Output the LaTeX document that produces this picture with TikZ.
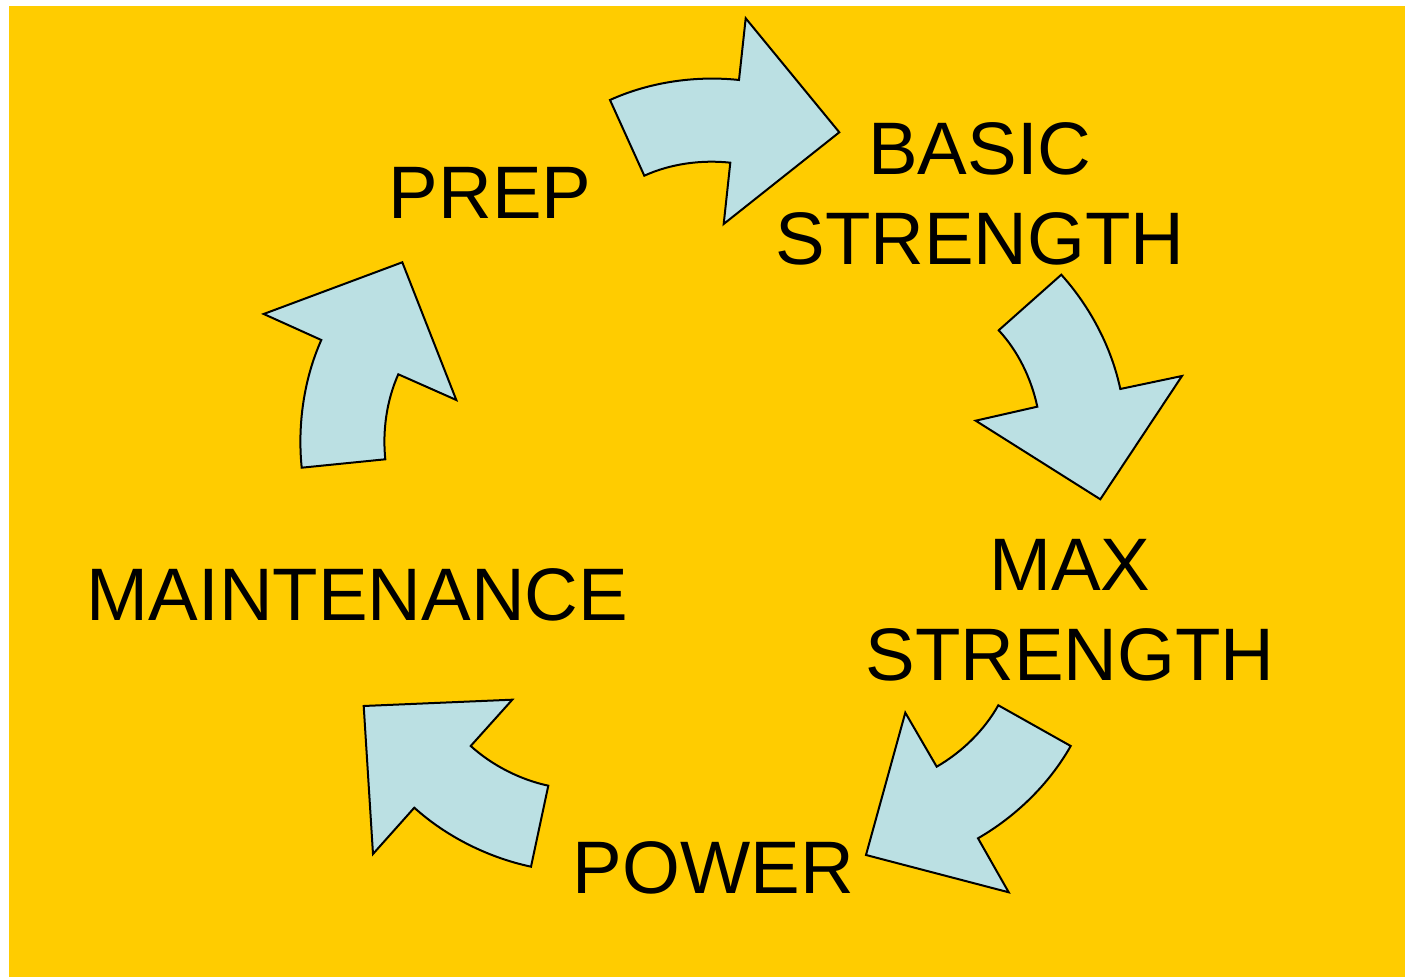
\documentclass[tikz,border=0pt]{standalone}
\usepackage{fontspec}
\setmainfont{Liberation Sans}
\usepackage{tikz}
\usetikzlibrary{arrows.meta,positioning,calc}
\definecolor{cycleyellow}{RGB}{255,204,0}
\definecolor{cycleblue}{RGB}{187,224,227}

\begin{document}
\begin{tikzpicture}[x=0.5pt,y=-0.5pt,
  cyclearrow/.style={fill=cycleblue,draw=black,line width=1pt,line join=miter},
  stage/.style={inner sep=0pt,align=center,font=\fontsize{37.2}{45}\selectfont}]
\useasboundingbox (0,0) rectangle (1405,977);
\fill[cycleyellow] (9,6) rectangle (1405,977);
% stage labels
\node[stage] (prep)  at (490,192.5)  {PREP};
\node[stage] (basic) at (980,194)    {BASIC\\STRENGTH};
\node[stage] (maxs)  at (1070,610)   {MAX\\STRENGTH};
\node[stage] (power) at (713.5,867.5) {POWER};
\node[stage] (maint) at (357.5,594.5) {MAINTENANCE};
% curved arrows, clockwise
\draw[cyclearrow] (610,100) .. controls (649.6,82) and (695.8,75.4) .. (739,80)
  -- (745.7,18.3) -- (839.3,132.3) -- (723.7,224) -- (730.3,162.7)
  .. controls (701.5,159.6) and (670.7,163.7) .. (644.3,175.7) -- cycle;
\draw[cyclearrow] (1061.3,274.7) -- (998.7,330.3)
  .. controls (1018.1,351.1) and (1031.4,378.8) .. (1037.3,406.7)
  -- (975.7,420.7) -- (1100.3,499.3) -- (1182,376) -- (1120.3,389)
  .. controls (1111.4,347) and (1090,306.6) .. cycle;
\draw[cyclearrow] (998.3,705.3) -- (1070.7,746)
  .. controls (1049.3,784) and (1015.8,816.5) .. (978,838.3)
  -- (1008.7,892.3) -- (866,855) -- (905.3,712.7) -- (936.7,766.7)
  .. controls (961.8,752.2) and (984.1,730.6) .. cycle;
\draw[cyclearrow] (363.7,706) -- (512.3,699.7) -- (470.7,746)
  .. controls (492.2,765.4) and (519.9,779.6) .. (548.3,785.7) -- (531,866.7)
  .. controls (488.4,857.6) and (446.7,836.9) .. (414.3,807.7)
  -- (373,854) -- cycle;
\draw[cyclearrow] (301.7,467.7) -- (385.3,459.3)
  .. controls (382.4,430.7) and (386.6,400.5) .. (398.3,374.3)
  -- (456.3,400) -- (402.3,262.3) -- (263.7,314) -- (321.3,340)
  .. controls (303.8,379.3) and (297.4,424.9) .. cycle;
\end{tikzpicture}
\end{document}
